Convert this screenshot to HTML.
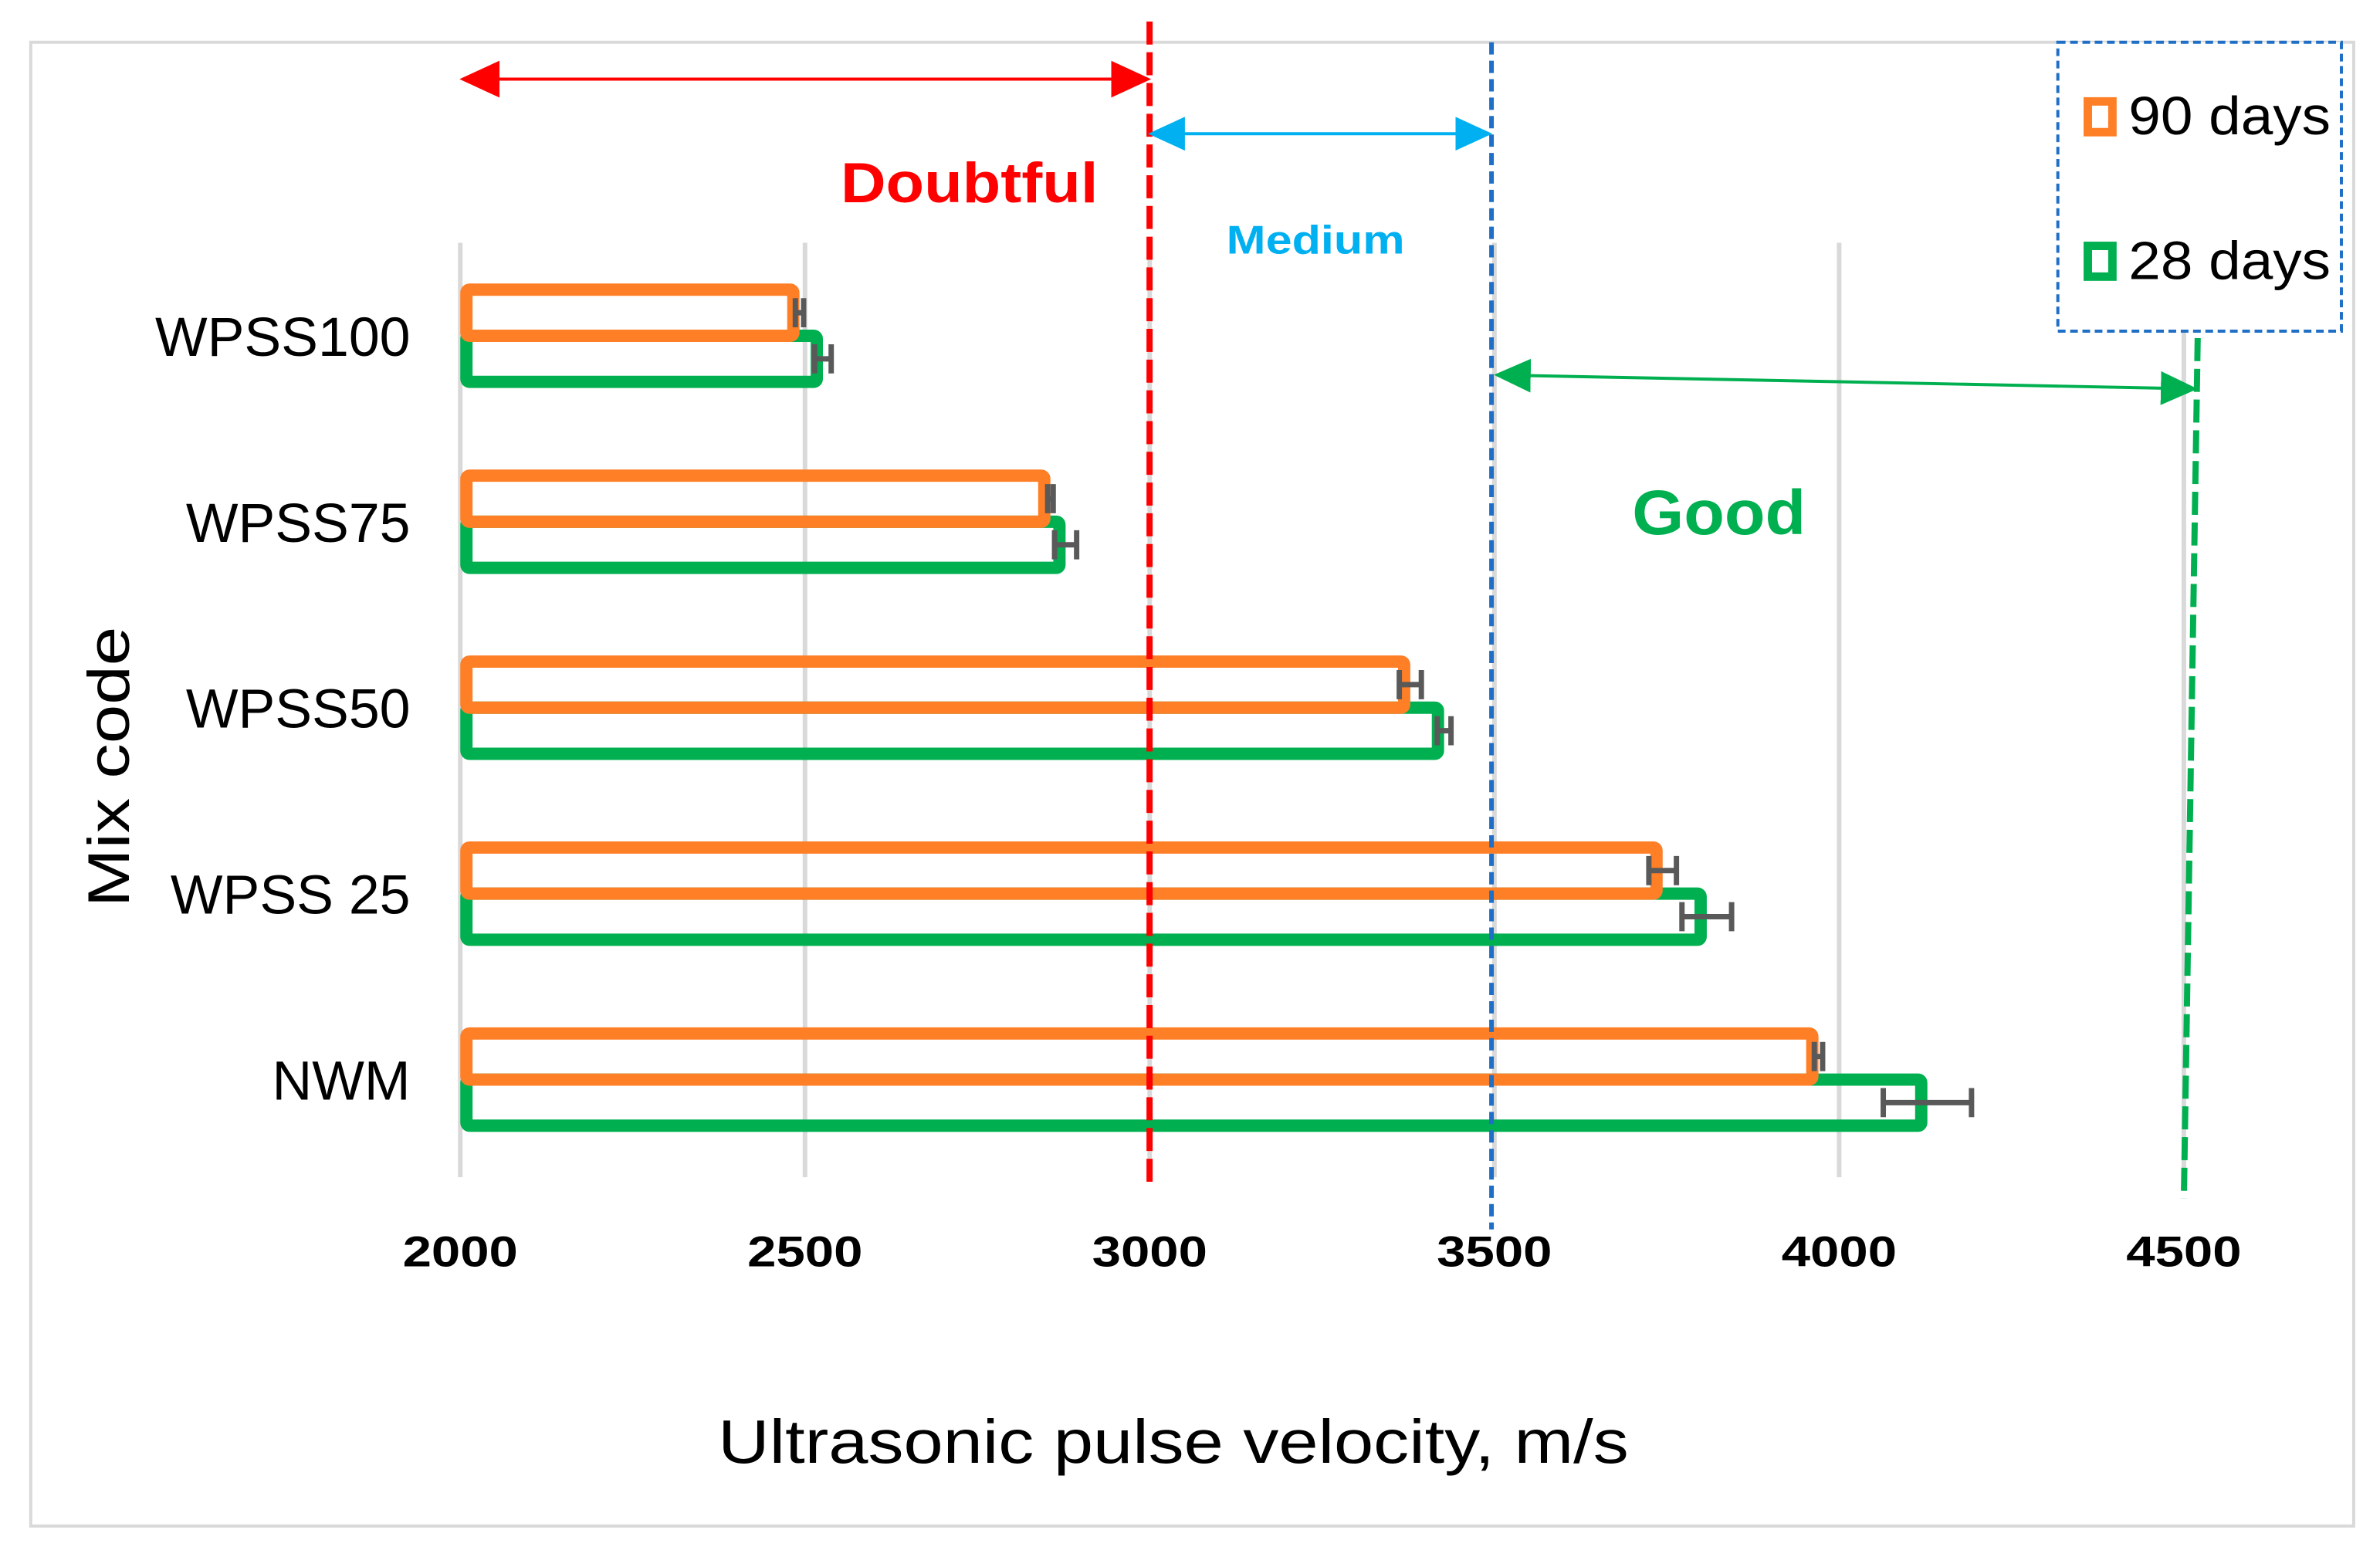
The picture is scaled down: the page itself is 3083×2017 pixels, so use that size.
<!DOCTYPE html>
<html><head><meta charset="utf-8"><style>html,body{margin:0;padding:0;background:#fff}svg{display:block}</style></head>
<body>
<svg id="chart" width="3083" height="2017" viewBox="0 0 3083 2017" xmlns="http://www.w3.org/2000/svg" font-family="'Liberation Sans', sans-serif">
<defs>
<marker id="ahR" markerWidth="13" markerHeight="12" refX="12" refY="6" orient="auto-start-reverse" markerUnits="strokeWidth"><path d="M0,0 L13,6 L0,12 z" fill="#ff0000"/></marker>
<marker id="ahB" markerWidth="12" markerHeight="11" refX="11" refY="5.5" orient="auto-start-reverse" markerUnits="strokeWidth"><path d="M0,0 L12,5.5 L0,11 z" fill="#00b0f0"/></marker>
<marker id="ahG" markerWidth="12" markerHeight="11" refX="11" refY="5.5" orient="auto-start-reverse" markerUnits="strokeWidth"><path d="M0,0 L12,5.5 L0,11 z" fill="#00b050"/></marker>
</defs>
<g transform="scale(0.9954)">
<rect x="40" y="55" width="3023" height="1931" fill="none" stroke="#d9d9d9" stroke-width="4"/>
<g id="grid"></g>
<g id="bars"></g>
<g id="ticks"></g>
<line x1="1496" y1="28" x2="1496" y2="1540" stroke="#ff0000" stroke-width="8" stroke-dasharray="30,10"/>
<line x1="1941" y1="55" x2="1941" y2="1600" stroke="#1f6fc6" stroke-width="6" stroke-dasharray="16,8"/>
<line x1="2860" y1="440" x2="2842" y2="1560" stroke="#00b050" stroke-width="8" stroke-dasharray="30,10"/>
<line x1="602" y1="103" x2="1494" y2="103" stroke="#ff0000" stroke-width="4" marker-start="url(#ahR)" marker-end="url(#ahR)"/>
<line x1="1498" y1="174" x2="1938" y2="174" stroke="#00b0f0" stroke-width="4" marker-start="url(#ahB)" marker-end="url(#ahB)"/>
<line x1="1948" y1="488" x2="2856" y2="506" stroke="#00b050" stroke-width="4" marker-start="url(#ahG)" marker-end="url(#ahG)"/>
<text x="1094" y="263" font-size="74" font-weight="bold" fill="#ff0000" textLength="335" lengthAdjust="spacingAndGlyphs">Doubtful</text>
<text x="1596" y="330" font-size="52" font-weight="bold" fill="#00b0f0" textLength="232" lengthAdjust="spacingAndGlyphs">Medium</text>
<text x="2124" y="695" font-size="82" font-weight="bold" fill="#00b050" textLength="226" lengthAdjust="spacingAndGlyphs">Good</text>
<g>
<rect x="2678" y="55" width="369" height="376" fill="#fff" stroke="#1f6fc6" stroke-width="4" stroke-dasharray="10,6"/>
<rect x="2717" y="132" width="32" height="40" fill="#fff" stroke="#ff7f27" stroke-width="11"/>
<text x="2770" y="175" font-size="70" fill="#000" textLength="263" lengthAdjust="spacingAndGlyphs">90 days</text>
<rect x="2717" y="320" width="32" height="40" fill="#fff" stroke="#00b050" stroke-width="11"/>
<text x="2770" y="363" font-size="70" fill="#000" textLength="263" lengthAdjust="spacingAndGlyphs">28 days</text>
</g>
<text transform="translate(168,998) rotate(-90)" text-anchor="middle" font-size="76" fill="#000" textLength="365" lengthAdjust="spacingAndGlyphs">Mix code</text>
<text x="1527" y="1904" text-anchor="middle" font-size="80" fill="#000" textLength="1185" lengthAdjust="spacingAndGlyphs">Ultrasonic pulse velocity, m/s</text>
</g>
<script>
const categories = ['WPSS100', 'WPSS75', 'WPSS50', 'WPSS 25', 'NWM'];
const days90 = [2492, 2856, 3378, 3744, 3970];
const days28 = [2526, 2878, 3427, 3808, 4128];
const err90 = [6, 4, 16, 20, 6];
const err28 = [12, 16, 10, 36, 64];
const xTicks = [2000, 2500, 3000, 3500, 4000, 4500];
const tickLabels = ['2000', '2500', '3000', '3500', '4000', '4500'];

const NS = 'http://www.w3.org/2000/svg';
function xs(v) { return 599 + (v - 2000) * (448.6 / 500); }
function ys(i) { return 437 + i * 242; }
function mk(tag, attrs, parent) {
  const e = document.createElementNS(NS, tag);
  for (const k in attrs) e.setAttribute(k, attrs[k]);
  parent.appendChild(e);
  return e;
}
const grid = document.getElementById('grid');
const ticks = document.getElementById('ticks');
const bars = document.getElementById('bars');
xTicks.forEach((t, i) => {
  const g = mk('line', {x1: xs(t), x2: xs(t), y1: 316, y2: 1532, stroke: '#d9d9d9', 'stroke-width': 6}, grid);
  
  
  const tl = mk('text', {x: xs(t), y: 1648, 'text-anchor': 'middle', 'font-size': 56, 'font-weight': 'bold', textLength: 150, lengthAdjust: 'spacingAndGlyphs'}, ticks);
  tl.textContent = tickLabels[i];
  
  
});
categories.forEach((c, i) => {
  const cy = ys(i);
  const x0 = xs(2000);
  const gb = mk('rect', {x: x0 + 8, y: cy, width: xs(days28[i]) - x0 - 16, height: 60, fill: 'none', stroke: '#00b050', 'stroke-width': 16, rx: 4}, bars);
  
  
  const ob = mk('rect', {x: x0 + 8, y: cy - 60, width: xs(days90[i]) - x0 - 16, height: 60, fill: 'none', stroke: '#ff7f27', 'stroke-width': 16, rx: 4}, bars);
  
  
  [[days90[i], err90[i], cy - 30], [days28[i], err28[i], cy + 30]].forEach((d, j) => {
    const eg = mk('g', {stroke: '#595959', 'stroke-width': 7}, bars);
    
    
    const a = xs(d[0] - d[1]), b = xs(d[0] + d[1]);
    mk('line', {x1: a, x2: b, y1: d[2], y2: d[2]}, eg);
    mk('line', {x1: a, x2: a, y1: d[2] - 19, y2: d[2] + 19}, eg);
    mk('line', {x1: b, x2: b, y1: d[2] - 19, y2: d[2] + 19}, eg);
  });
  const lab = mk('text', {x: 534, y: cy + 26, 'text-anchor': 'end', 'font-size': 72}, ticks);
  lab.textContent = c;
  
  
});
</script>
</svg>
</body></html>
